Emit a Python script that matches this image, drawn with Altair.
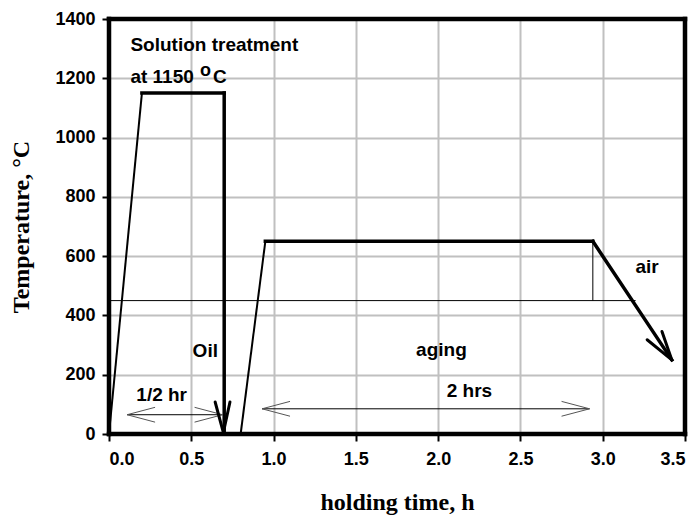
import altair as alt
import pandas as pd

seg_x1 = [0.00, 0.20, 0.70, 0.80, 0.95, 2.94]
seg_y1 = [0, 1150, 1150, 0, 650, 650]
seg_x2 = [0.20, 0.70, 0.70, 0.95, 2.94, 3.42]
seg_y2 = [1150, 1150, 0, 650, 650, 250]
seg_w = ["ramp", "hold", "hold", "ramp", "hold", "hold"]

ref_x1 = [0.00, 2.94]
ref_y1 = [450, 650]
ref_x2 = [3.20, 2.94]
ref_y2 = [450, 450]

dim_x1 = [0.11, 0.93]
dim_x2 = [0.69, 2.92]
dim_y = [65, 85]

head_tip_x = [0.11, 0.69, 0.93, 2.92, 0.695, 3.42]
head_tip_y = [65, 65, 85, 85, 5, 250]
head_a_x = [0.28, 0.52, 1.10, 2.75, 0.645, 3.27]
head_a_y = [90, 90, 110, 110, 108, 318]
head_b_x = [0.28, 0.52, 1.10, 2.75, 0.735, 3.36]
head_b_y = [40, 40, 60, 60, 108, 346]
head_w = ["dim", "dim", "dim", "dim", "hold", "hold"]

x_lim = [0.0, 3.5]
y_lim = [0, 1400]

left_text = ["Solution treatment", "at 1150"]
left_x = [0.13, 0.13]
left_y = [1312, 1204]

mid_text = ["Oil", "1/2 hr", "aging", "2 hrs", "air"]
mid_x = [0.585, 0.32, 2.02, 2.19, 3.27]
mid_y = [280, 130, 283, 145, 563]

sup_text = ["o", "C"]
sup_x = [0.553, 0.632]
sup_y = [1225, 1204]

x_ticks = [0.0, 0.5, 1.0, 1.5, 2.0, 2.5, 3.0, 3.5]
y_ticks = [0, 200, 400, 600, 800, 1000, 1200, 1400]

segs = pd.DataFrame({"x": seg_x1, "y": seg_y1, "x2": seg_x2, "y2": seg_y2, "w": seg_w})
refs = pd.DataFrame({"x": ref_x1, "y": ref_y1, "x2": ref_x2, "y2": ref_y2})
dims = pd.DataFrame({"x": dim_x1, "x2": dim_x2, "y": dim_y})
heads = pd.DataFrame(
    {
        "x": head_tip_x * 2,
        "y": head_tip_y * 2,
        "x2": head_a_x + head_b_x,
        "y2": head_a_y + head_b_y,
        "w": head_w * 2,
    }
)
frame_df = pd.DataFrame(
    {
        "x": [x_lim[0], x_lim[0], x_lim[0], x_lim[1]],
        "x2": [x_lim[1], x_lim[1], x_lim[0], x_lim[1]],
        "y": [y_lim[0], y_lim[1], y_lim[0], y_lim[0]],
        "y2": [y_lim[0], y_lim[1], y_lim[1], y_lim[1]],
    }
)
lefts = pd.DataFrame({"t": left_text, "x": left_x, "y": left_y})
mids = pd.DataFrame({"t": mid_text, "x": mid_x, "y": mid_y})
sups = pd.DataFrame({"t": sup_text, "x": sup_x, "y": sup_y})

xs = alt.Scale(domain=x_lim, nice=False, zero=False)
ys = alt.Scale(domain=y_lim, nice=False)

common_axis = dict(
    grid=True,
    gridColor="#c0c0c0",
    gridWidth=2,
    domain=False,
    tickColor="black",
    tickWidth=2,
    tickSize=7,
    labelFont="Liberation Sans",
    labelFontWeight="bold",
    labelFontSize=18,
    labelColor="black",
    titleFont="Liberation Serif",
    titleFontWeight="bold",
    titleFontSize=24,
    titleColor="black",
)

X = alt.X(
    "x:Q",
    scale=xs,
    title="holding time, h",
    axis=alt.Axis(values=x_ticks, format=".1f", labelPadding=9, titleY=75,
                  titleBaseline="alphabetic", **common_axis),
)
Y = alt.Y(
    "y:Q",
    scale=ys,
    title="Temperature, °C",
    axis=alt.Axis(values=y_ticks, format="d", labelPadding=7, titleX=-88,
                  titleBaseline="middle", **common_axis),
)

frame = alt.Chart(frame_df).mark_rule(color="black", strokeWidth=4.5, strokeCap="square").encode(
    x=X, y=Y, x2="x2:Q", y2="y2:Q"
)
base_profile = alt.Chart(segs).encode(x="x:Q", y="y:Q", x2="x2:Q", y2="y2:Q")
hold_lines = base_profile.transform_filter(alt.datum.w == "hold").mark_rule(
    color="black", strokeWidth=3.5, strokeCap="square"
)
ramp_lines = base_profile.transform_filter(alt.datum.w == "ramp").mark_rule(
    color="black", strokeWidth=2
)
ref_lines = alt.Chart(refs).mark_rule(color="black", strokeWidth=1).encode(
    x="x:Q", y="y:Q", x2="x2:Q", y2="y2:Q"
)
dim_lines = alt.Chart(dims).mark_rule(color="black", strokeWidth=1).encode(
    x="x:Q", x2="x2:Q", y="y:Q"
)
base_heads = alt.Chart(heads).encode(x="x:Q", y="y:Q", x2="x2:Q", y2="y2:Q")
dim_heads = base_heads.transform_filter(alt.datum.w == "dim").mark_rule(
    color="#555555", strokeWidth=1
)
big_heads = base_heads.transform_filter(alt.datum.w == "hold").mark_rule(
    color="black", strokeWidth=3, strokeCap="round"
)

left_labels = alt.Chart(lefts).mark_text(
    font="Liberation Sans", fontWeight="bold", fontSize=19, color="black",
    baseline="middle", align="left",
).encode(x="x:Q", y="y:Q", text="t:N")
mid_labels = alt.Chart(mids).mark_text(
    font="Liberation Sans", fontWeight="bold", fontSize=19, color="black",
    baseline="middle", align="center",
).encode(x="x:Q", y="y:Q", text="t:N")
sup_o = alt.Chart(sups).transform_filter(alt.datum.t == "o").mark_text(
    font="Liberation Sans", fontWeight="bold", fontSize=18, color="black",
    baseline="middle", align="left",
).encode(x="x:Q", y="y:Q", text="t:N")
sup_c = alt.Chart(sups).transform_filter(alt.datum.t == "C").mark_text(
    font="Liberation Sans", fontWeight="bold", fontSize=19, color="black",
    baseline="middle", align="left",
).encode(x="x:Q", y="y:Q", text="t:N")

chart = (
    alt.layer(
        frame, hold_lines, ramp_lines, ref_lines, dim_lines, dim_heads, big_heads,
        left_labels, mid_labels, sup_o, sup_c,
    )
    .properties(
        width=576,
        height=415,
        autosize=alt.AutoSizeParams(type="none"),
        padding={"left": 101, "top": 11, "right": 6, "bottom": 82},
    )
    .configure(background="white")
    .configure_view(stroke="black", strokeWidth=4)
)

chart.save("out.html", embed_options={"renderer": "svg", "actions": False})
